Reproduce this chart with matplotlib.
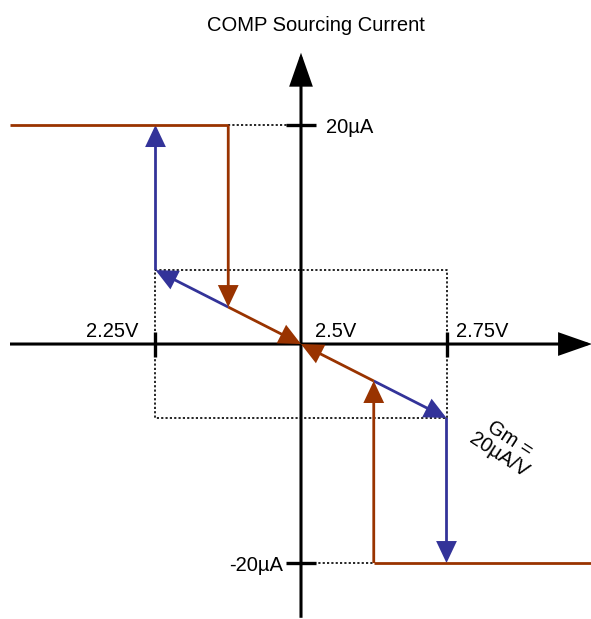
import matplotlib
matplotlib.use("Agg")
import matplotlib.pyplot as plt
from matplotlib.patches import FancyArrowPatch, ArrowStyle

plt.rcParams['font.family'] = ['Liberation Sans', 'DejaVu Sans']

# --- transfer characteristic (x in volts, y in µA) ---
v_center = 2.5
v_window = [2.25, 2.75]
v_window_labels = ["2.25V", "2.5V", "2.75V"]
i_limits = [20, -20]
i_limit_labels = ["20\u00b5A", "-20\u00b5A"]
i_linear = 6.75                    # current at the window edges
v_trip = [2.375, 2.625]            # where the saturated branches drop onto the slope
i_trip = [3.375, -3.375]
v_span = [2.0, 3.0]                # horizontal extent of the drawing
i_axis = [-25.0, 26.6]             # vertical axis extent

RED = "#993300"
BLUE = "#333399"

fig = plt.figure(figsize=(5.91, 6.19), dpi=100)
ax = fig.add_axes([0, 0, 1, 1])
ax.set_xlim(1.98282, 2.99828)
ax.set_ylim(-25.11, 31.416)
ax.axis('off')


def arrow(p0, p1, color, lw, hl, hw, z=3):
    style = ArrowStyle('-|>', head_length=hl, head_width=hw)
    a = FancyArrowPatch(p0, p1, arrowstyle=style, mutation_scale=1,
                        color=color, lw=lw, shrinkA=0, shrinkB=0,
                        joinstyle='miter', capstyle='butt', zorder=z)
    ax.add_patch(a)


# axes with arrow heads
arrow((v_span[0], 0), (v_span[1], 0), 'black', 2.2, 20, 7.0, z=1)
arrow((v_center, i_axis[0]), (v_center, i_axis[1]), 'black', 2.2, 20, 7.0, z=1)

# tick marks
ax.plot([v_window[0], v_window[1]], [0, 0], ls='none', marker='|',
        ms=18, mew=2.4, color='black', zorder=1)
ax.plot([v_center, v_center], i_limits, ls='none', marker='_',
        ms=21, mew=2.4, color='black', zorder=1)

# dotted guides
dot = dict(color='black', lw=1.2, ls=(0, (1.3, 1.3)), zorder=0.5)
ax.plot([v_trip[0], v_center], [i_limits[0]] * 2, **dot)
ax.plot([v_center, v_trip[1]], [i_limits[1]] * 2, **dot)
ax.plot([v_window[0], v_window[1], v_window[1], v_window[0], v_window[0]],
        [i_linear, i_linear, -i_linear, -i_linear, i_linear], **dot)

LW = 2.0
HL, HW = 12.5, 5.9

# blue branch (moving outward along the slope, then snapping to the limit)
arrow((v_trip[0], i_trip[0]), (v_window[0], i_linear), BLUE, LW, HL, HW)
arrow((v_window[0], i_linear), (v_window[0], i_limits[0]), BLUE, LW, HL, HW)
arrow((v_trip[1], i_trip[1]), (v_window[1], -i_linear), BLUE, LW, HL, HW)
arrow((v_window[1], -i_linear), (v_window[1], i_limits[1]), BLUE, LW, HL, HW)

# red branch (leaving the limit and returning to the centre)
ax.plot([v_span[0], v_trip[0]], [i_limits[0]] * 2, color=RED, lw=LW,
        solid_capstyle='butt', zorder=4)
arrow((v_trip[0], i_limits[0]), (v_trip[0], i_trip[0]), RED, LW, HL, HW, z=4)
arrow((v_trip[0], i_trip[0]), (v_center, 0), RED, LW, HL, HW, z=4)
ax.plot([v_span[1], v_trip[1]], [i_limits[1]] * 2, color=RED, lw=LW,
        solid_capstyle='butt', zorder=4)
arrow((v_trip[1], i_limits[1]), (v_trip[1], i_trip[1]), RED, LW, HL, HW, z=4)
arrow((v_trip[1], i_trip[1]), (v_center, 0), RED, LW, HL, HW, z=4)

FS = 14.5
ax.text(2.5258, 28.6, "COMP Sourcing Current", fontsize=FS,
        ha='center', va='baseline')
ax.text(2.2199, 0.64, v_window_labels[0], fontsize=FS, ha='right', va='baseline')
ax.text(2.524, 0.64, v_window_labels[1], fontsize=FS, ha='left', va='baseline')
ax.text(2.766, 0.64, v_window_labels[2], fontsize=FS, ha='left', va='baseline')
ax.text(2.543, i_limits[0], i_limit_labels[0], fontsize=FS,
        ha='left', va='center_baseline')
ax.text(2.469, i_limits[1], i_limit_labels[1], fontsize=FS,
        ha='right', va='center_baseline')
ax.text(2.849, -9.41, "Gm =\n20\u00b5A/V", fontsize=FS, ha='center',
        va='center', rotation=-33, rotation_mode='anchor',
        multialignment='center', linespacing=1.05)

fig.savefig("out.png", dpi=100)
